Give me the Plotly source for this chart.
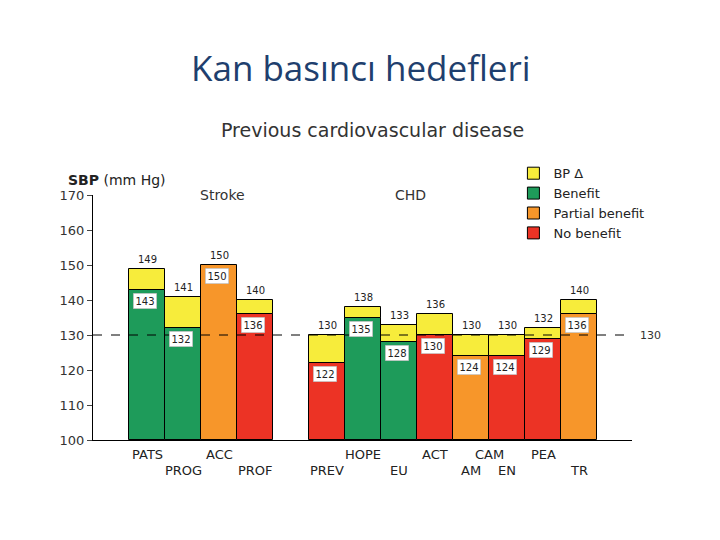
import plotly.graph_objects as go

studies = ["PATS", "PROG", "ACC", "PROF", "PREV", "HOPE", "EU", "ACT", "AM", "EN", "PEA", "TR"]
groups = ["Stroke"] * 4 + ["CHD"] * 8
label_row = [0, 1, 0, 1, 1, 0, 1, 0, 1, 1, 0, 1]
sbp_before = [149, 141, 150, 140, 130, 138, 133, 136, 130, 130, 132, 140]
sbp_after = [143, 132, 150, 136, 122, 135, 128, 130, 124, 124, 129, 136]
outcome = ["Benefit", "Benefit", "Partial benefit", "No benefit",
           "No benefit", "Benefit", "Benefit", "No benefit",
           "Partial benefit", "No benefit", "No benefit", "Partial benefit"]
y_ticks = [100, 110, 120, 130, 140, 150, 160, 170]
target = 130
# shared label spanning two studies: (text, first study, last study, row)
span_labels = [("CAM", "AM", "EN", 0)]

colors = {"BP Δ": "#f7ec3b", "Benefit": "#1e9b5a",
          "Partial benefit": "#f7962a", "No benefit": "#ec3325"}

FONT = "DejaVu Sans, Liberation Sans, Arial"

# positions: one empty slot between the two groups
pos = [i + (1 if g == "CHD" else 0) for i, g in enumerate(groups)]
pos_of = dict(zip(studies, pos))
base = y_ticks[0]

fig = go.Figure()

# BP delta (yellow) segments
dx, dy, db = [], [], []
for p, hi, lo in zip(pos, sbp_before, sbp_after):
    if hi > lo:
        dx.append(p); dy.append(hi - lo); db.append(lo)
fig.add_trace(go.Bar(x=dx, y=dy, base=db, name="BP Δ", width=1,
                     marker=dict(color=colors["BP Δ"], line=dict(color="black", width=1))))

for cat in ["Benefit", "Partial benefit", "No benefit"]:
    xs = [p for p, o in zip(pos, outcome) if o == cat]
    ys = [v - base for v, o in zip(sbp_after, outcome) if o == cat]
    fig.add_trace(go.Bar(x=xs, y=ys, base=[base] * len(xs), name=cat, width=1,
                         marker=dict(color=colors[cat], line=dict(color="black", width=1))))

ann = []
lab_font = dict(family=FONT, size=10, color="#222")
for p, hi, lo in zip(pos, sbp_before, sbp_after):
    ann.append(dict(x=p, y=hi, text=str(hi), showarrow=False, yanchor="bottom",
                    yshift=2, font=lab_font))
    ann.append(dict(x=p, y=lo, text=str(lo), showarrow=False, yanchor="top",
                    yshift=-3, xshift=-2, font=lab_font, bgcolor="white",
                    bordercolor="#aaa", borderwidth=0.5, borderpad=2))

x_font = dict(family=FONT, size=13, color="#222")
for p, s, r in zip(pos, studies, label_row):
    ann.append(dict(x=p, y=base, text=s, showarrow=False, yanchor="top",
                    yshift=-5 - 16 * r, font=x_font))
for s, a, b, r in span_labels:
    ann.append(dict(x=(pos_of[a] + pos_of[b]) / 2, y=base, text=s, showarrow=False,
                    yanchor="top", yshift=-5 - 16 * r, font=x_font))

grp_font = dict(family=FONT, size=14, color="#333")
ann.append(dict(x=2.1, y=y_ticks[-1], text="Stroke", showarrow=False, yanchor="middle", font=grp_font))
ann.append(dict(x=7.3, y=y_ticks[-1], text="CHD", showarrow=False, yanchor="middle", font=grp_font))
ann.append(dict(xref="paper", x=1.0, y=target, text="130", showarrow=False,
                xanchor="left", xshift=6,
                font=dict(family=FONT, size=11, color="#333")))
ann.append(dict(xref="paper", yref="paper", x=-0.05, y=1.02, text="<b>SBP</b> (mm Hg)",
                showarrow=False, xanchor="left", yanchor="bottom",
                font=dict(family=FONT, size=14, color="#222")))
ann.append(dict(xref="paper", yref="paper", x=0.518, y=1.265, text="Previous cardiovascular disease",
                showarrow=False, yanchor="middle",
                font=dict(family=FONT, size=19, color="#333")))
ann.append(dict(xref="paper", yref="paper", x=0.497, y=1.52, text="Kan basıncı hedefleri",
                showarrow=False, yanchor="middle",
                font=dict(family="Open Sans, Noto Sans", size=35, color="#1f3f6e")))

fig.add_shape(type="line", xref="paper", x0=0, x1=1, y0=target, y1=target,
              line=dict(color="black", width=1, dash="dash"))

fig.update_layout(
    width=720, height=540,
    margin=dict(l=85, r=96, t=187, b=108),
    paper_bgcolor="white", plot_bgcolor="white",
    barmode="overlay", bargap=0,
    showlegend=True,
    legend=dict(x=0.78, y=1.15, xanchor="left", yanchor="top",
                font=dict(family=FONT, size=13, color="#222"),
                bgcolor="rgba(0,0,0,0)", tracegroupgap=0, itemwidth=30),
    annotations=ann,
    xaxis=dict(range=[-1.51, 13.46], showticklabels=False, ticks="",
               showgrid=False, zeroline=False, showline=True, linecolor="black", linewidth=1),
    yaxis=dict(range=[y_ticks[0], y_ticks[-1]], tickvals=y_ticks, ticks="outside",
               ticklen=5, tickcolor="#444", showgrid=False, zeroline=False,
               showline=True, linecolor="black", linewidth=1,
               tickfont=dict(family=FONT, size=13, color="#333")),
)

fig.write_html("out.html")
